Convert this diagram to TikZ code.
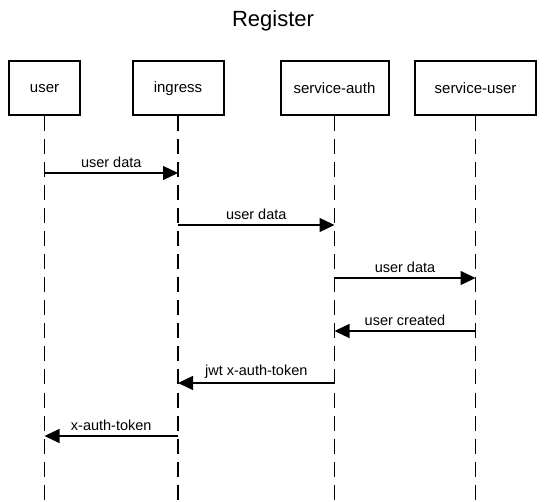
\documentclass[tikz,border=0pt]{standalone}
\usepackage{fontspec}
\setmainfont{Liberation Sans}
\usetikzlibrary{arrows.meta}
\begin{document}
\begin{tikzpicture}[x={(1pt,0)},y={(0,-1pt)},
  actor/.style={draw,line width=2pt,minimum height=54pt,inner sep=0pt,font=\fontsize{15}{17}\selectfont},
  life/.style={line width=1.3pt,dash pattern=on 15pt off 8pt},
  msg/.style={line width=1.3pt,-{Triangle[length=15pt,width=14pt]}},
  lbl/.style={above=1pt,font=\fontsize{14.5}{17}\selectfont,midway}]
\useasboundingbox (0,0) rectangle (546,502);
\node[font=\fontsize{22}{26}\selectfont] (title) at (273,21) {Register};
\node[actor,minimum width=71pt] (user) at (44.5,88.5) {user};
\node[actor,minimum width=91pt] (ingress) at (178,88.5) {ingress};
\node[actor,minimum width=108pt] (auth) at (334.5,88.5) {service-auth};
\node[actor,minimum width=121pt] (suser) at (475.5,88.5) {service-user};
\foreach \n in {user,ingress,auth,suser}{
  \coordinate (\n-end) at (\n.south |- 0,502);
  \draw[life] (\n.south) -- (\n-end);
}
\coordinate (m1) at (0,173);
\coordinate (m2) at (0,225);
\coordinate (m3) at (0,278);
\coordinate (m4) at (0,331);
\coordinate (m5) at (0,383);
\coordinate (m6) at (0,436);
\draw[msg] (user |- m1) -- (ingress |- m1) node[lbl] {user data};
\draw[msg] (ingress |- m2) -- (auth |- m2) node[lbl] {user data};
\draw[msg] (auth |- m3) -- (suser |- m3) node[lbl] {user data};
\draw[msg] (suser |- m4) -- (auth |- m4) node[lbl] {user created};
\draw[msg] (auth |- m5) -- (ingress |- m5) node[lbl] {jwt x-auth-token};
\draw[msg] (ingress |- m6) -- (user |- m6) node[lbl] {x-auth-token};
\end{tikzpicture}
\end{document}
